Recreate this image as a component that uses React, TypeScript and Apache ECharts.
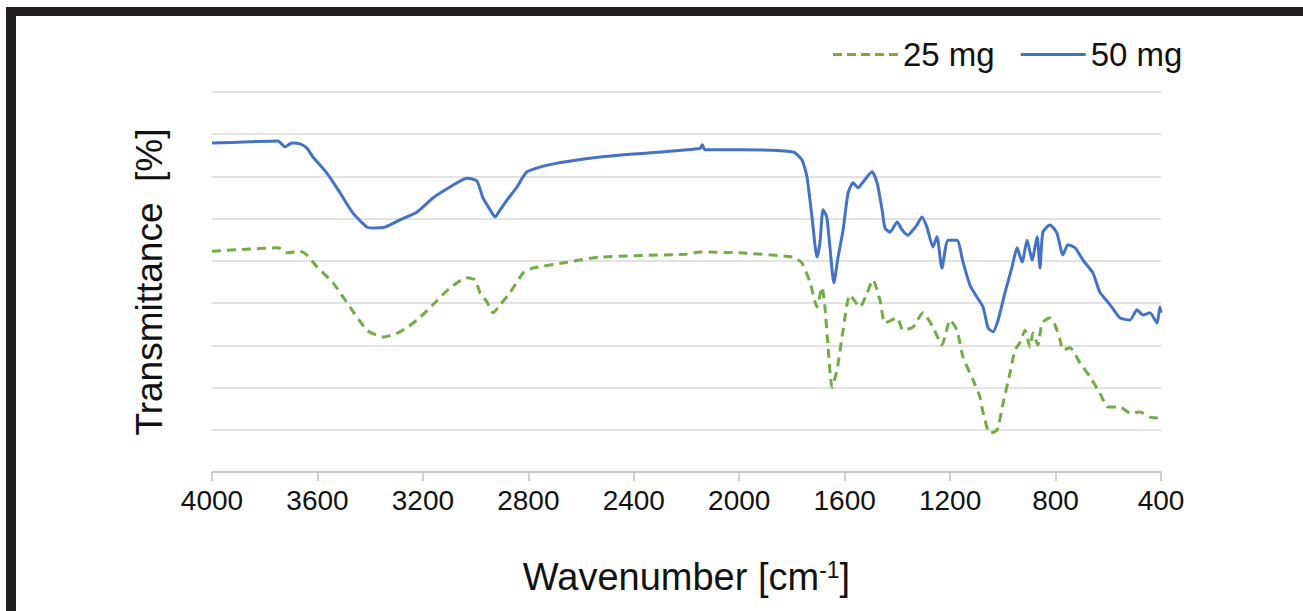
import React, { useEffect, useRef } from "react";
import * as echarts from "echarts";

const xTicks = [4000, 3600, 3200, 2800, 2400, 2000, 1600, 1200, 800, 400];

const wave50 = [4000, 3856, 3750, 3723, 3697, 3666, 3640, 3617, 3564, 3514, 3465, 3412, 3389, 3344, 3287, 3222, 3162, 3097, 3033, 2995, 2972, 2945, 2926, 2907, 2881, 2843, 2805, 2718, 2528, 2338, 2149, 2140, 2130, 1997, 1796, 1762, 1743, 1724, 1705, 1694, 1682, 1668, 1656, 1641, 1625, 1606, 1587, 1568, 1549, 1530, 1496, 1477, 1458, 1447, 1428, 1401, 1382, 1360, 1341, 1326, 1307, 1288, 1265, 1250, 1231, 1208, 1174, 1151, 1125, 1098, 1075, 1056, 1037, 1018, 992, 965, 946, 927, 908, 889, 870, 859, 848, 821, 795, 772, 753, 726, 696, 658, 632, 593, 556, 518, 491, 468, 442, 415, 404, 400];
const trans50 = [7.79, 7.82, 7.84, 7.7, 7.79, 7.77, 7.67, 7.46, 7.08, 6.61, 6.13, 5.8, 5.78, 5.8, 5.97, 6.16, 6.49, 6.75, 6.96, 6.89, 6.49, 6.21, 6.04, 6.21, 6.44, 6.75, 7.11, 7.28, 7.46, 7.56, 7.66, 7.75, 7.63, 7.63, 7.58, 7.39, 6.99, 6.04, 5.09, 5.42, 6.21, 6.04, 5.33, 4.48, 5.09, 5.73, 6.61, 6.85, 6.73, 6.87, 7.11, 6.85, 6.21, 5.78, 5.68, 5.92, 5.73, 5.61, 5.73, 5.85, 6.04, 5.8, 5.33, 5.57, 4.83, 5.49, 5.49, 4.97, 4.43, 4.14, 3.91, 3.41, 3.32, 3.6, 4.24, 4.86, 5.31, 4.97, 5.49, 5.02, 5.57, 4.83, 5.68, 5.85, 5.66, 5.14, 5.38, 5.31, 5.02, 4.71, 4.26, 3.96, 3.65, 3.6, 3.84, 3.72, 3.77, 3.53, 3.91, 3.77];

const wave25 = [4000, 3856, 3750, 3712, 3666, 3640, 3602, 3541, 3477, 3412, 3351, 3287, 3222, 3162, 3097, 3033, 3002, 2983, 2957, 2934, 2907, 2870, 2820, 2782, 2653, 2528, 2202, 2149, 2001, 1796, 1762, 1731, 1705, 1686, 1675, 1663, 1648, 1629, 1606, 1580, 1542, 1515, 1493, 1466, 1447, 1401, 1379, 1341, 1303, 1265, 1231, 1200, 1174, 1151, 1113, 1087, 1075, 1049, 1022, 999, 973, 954, 935, 916, 897, 886, 867, 851, 821, 802, 783, 772, 745, 707, 669, 632, 601, 556, 518, 480, 442, 404, 400];
const trans25 = [5.23, 5.28, 5.31, 5.19, 5.23, 5.14, 4.86, 4.48, 3.91, 3.36, 3.2, 3.32, 3.6, 3.96, 4.36, 4.6, 4.55, 4.24, 4.03, 3.77, 3.96, 4.24, 4.71, 4.83, 4.97, 5.09, 5.16, 5.21, 5.19, 5.09, 4.95, 4.48, 3.91, 4.38, 3.91, 2.96, 2.01, 2.42, 3.36, 4.19, 3.91, 4.24, 4.55, 4.07, 3.53, 3.65, 3.36, 3.43, 3.77, 3.43, 3.01, 3.6, 3.36, 2.72, 2.18, 1.78, 1.4, 0.92, 0.99, 1.63, 2.34, 2.89, 3.06, 3.36, 2.96, 3.29, 3.01, 3.53, 3.65, 3.48, 3.13, 2.89, 2.94, 2.58, 2.25, 1.87, 1.54, 1.54, 1.4, 1.42, 1.3, 1.28, 1.3];

const seriesNames = ["25 mg", "50 mg"];

const FONT = "Liberation Sans, Arial, sans-serif";

const DASH_ICON =
  "path://M0,0h9v3h-9z M14,0h9v3h-9z M28,0h9v3h-9z M42,0h9v3h-9z M56,0h9v3h-9z";
const SOLID_ICON = "path://M0,0h65v3h-65z";

export default function App() {
  const ref = useRef<HTMLDivElement>(null);
  useEffect(() => {
    if (!ref.current) return;
    const chart = echarts.init(ref.current, null, { renderer: "svg" });
    const d25 = wave25.map((w, i) => [w, trans25[i]]);
    const d50 = wave50.map((w, i) => [w, trans50[i]]);
    chart.setOption({
      animation: false,
      backgroundColor: "#ffffff",
      textStyle: { fontFamily: FONT },
      grid: { left: 212, right: 142, top: 92, bottom: 139 },
      legend: {
        left: 828,
        top: 33,
        itemWidth: 65,
        itemHeight: 3,
        itemGap: 26,
        data: [
          { name: seriesNames[0], icon: DASH_ICON },
          { name: seriesNames[1], icon: SOLID_ICON },
        ],
        textStyle: { fontSize: 33, color: "#111", fontFamily: FONT },
      },
      xAxis: {
        type: "value",
        min: 400,
        max: 4000,
        interval: 400,
        inverse: true,
        name: "{a|Wavenumber [cm}{s|-1}{a|]}",
        nameLocation: "middle",
        nameGap: 86,
        nameTextStyle: {
          rich: {
            a: { fontSize: 38, color: "#111", fontFamily: FONT, verticalAlign: "bottom" },
            s: { fontSize: 23, color: "#111", fontFamily: FONT, verticalAlign: "top" },
          },
        },
        axisLine: { show: true, lineStyle: { color: "#bfbfbf", width: 1.5 } },
        axisTick: { show: true, length: 9, lineStyle: { color: "#bfbfbf", width: 1.5 } },
        axisLabel: {
          fontSize: 28,
          color: "#111",
          margin: 14,
          fontFamily: FONT,
          formatter: (v: number) => (xTicks.includes(v) ? String(v) : ""),
        },
        splitLine: { show: false },
      },
      yAxis: {
        type: "value",
        min: 0,
        max: 9,
        interval: 1,
        name: "Transmittance  [%]",
        nameLocation: "middle",
        nameRotate: 90,
        nameGap: 44,
        nameTextStyle: { fontSize: 37, color: "#111", fontFamily: FONT },
        axisLine: { show: false },
        axisTick: { show: false },
        axisLabel: { show: false },
        splitLine: { show: true, lineStyle: { color: "#d9d9d9", width: 1.5 } },
      },
      series: [
        {
          name: seriesNames[0],
          type: "line",
          data: d25,
          showSymbol: false,
          symbol: "none",
          smooth: 0.2,
          color: "#70AD47",
          lineStyle: { color: "#70AD47", width: 3, type: [9, 6] },
          z: 2,
        },
        {
          name: seriesNames[1],
          type: "line",
          data: d50,
          showSymbol: false,
          symbol: "none",
          smooth: 0.2,
          color: "#4472C4",
          lineStyle: { color: "#4472C4", width: 3 },
          z: 3,
        },
      ],
      graphic: [
        { type: "rect", shape: { x: 6, y: 7, width: 1297, height: 9 }, style: { fill: "#231f20" } },
        { type: "rect", shape: { x: 6, y: 7, width: 10, height: 604 }, style: { fill: "#231f20" } },
      ],
    });
    return () => chart.dispose();
  }, []);
  return (
    <div
      ref={ref}
      style={{ position: "fixed", left: 0, top: 0, width: 1303, height: 611, background: "#fff" }}
    />
  );
}
